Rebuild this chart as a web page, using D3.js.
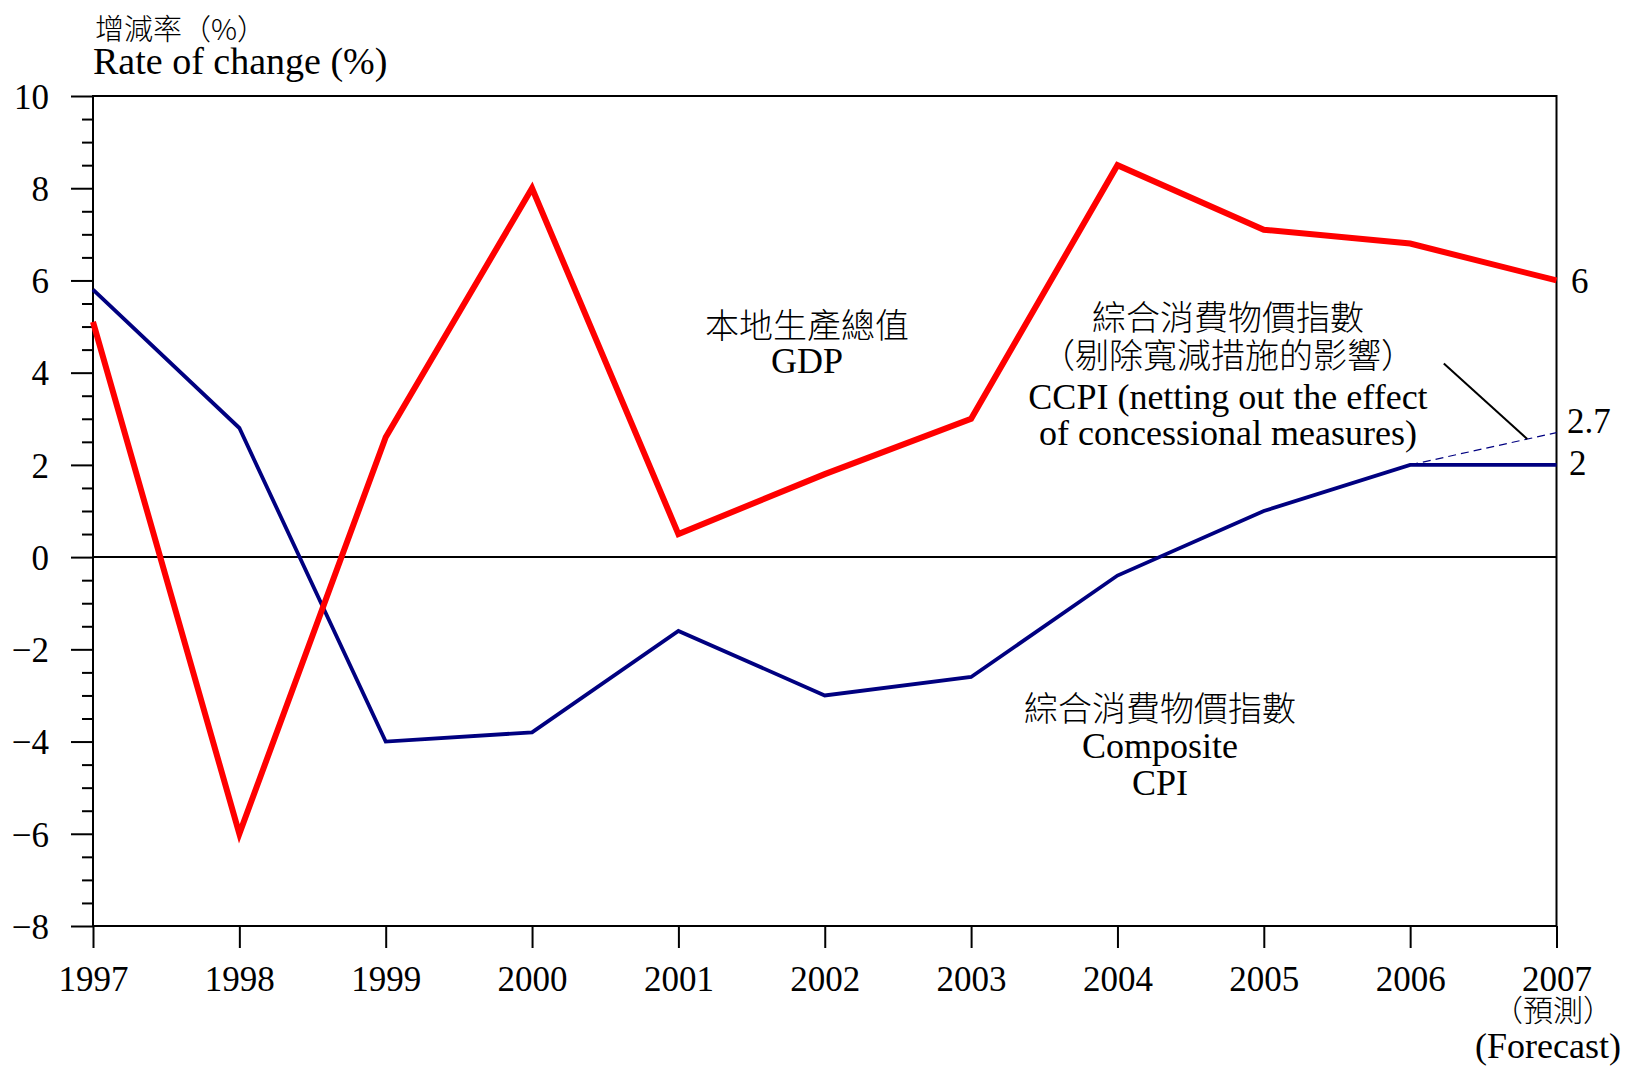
<!DOCTYPE html>
<html>
<head>
<meta charset="utf-8">
<script src="https://cdn.jsdelivr.net/npm/d3@7"></script>
<style>
  body { margin: 0; background: #fff; }
  svg text { font-family: "Liberation Serif", "Noto Sans CJK TC", serif; fill: #000; }
  .cjk { font-family: "Noto Sans CJK TC", sans-serif; font-weight: 300; }
</style>
</head>
<body>
<svg id="chart"></svg>
<script>
// data
var years = [1997, 1998, 1999, 2000, 2001, 2002, 2003, 2004, 2005, 2006, 2007];
var gdp   = [5.1, -6.0, 2.6, 8.0, 0.5, 1.8, 3.0, 8.5, 7.1, 6.8, 6.0];
var cpi   = [5.8, 2.8, -4.0, -3.8, -1.6, -3.0, -2.6, -0.4, 1.0, 2.0, 2.0];
var ccpiYears = [2006, 2007];
var ccpi      = [2.0, 2.7];
var yTicks = [-8, -6, -4, -2, 0, 2, 4, 6, 8, 10];

var width = 1628, height = 1071;
var plotLeft = 93, plotRight = 1556.5, plotTop = 96, plotBottom = 926;

var svg = d3.select('#chart')
    .attr('width', width)
    .attr('height', height);

var x = d3.scaleLinear().domain([1997, 2007]).range([plotLeft, plotRight]);
var y = d3.scaleLinear().domain([-8, 10]).range([plotBottom, plotTop]);

// minor ticks on y every 0.5
var minor = d3.range(-8, 10.01, 0.5).filter(function (d) { return yTicks.indexOf(d) < 0; });

svg.append('g')
    .attr('transform', 'translate(' + plotLeft + ',0)')
    .call(d3.axisLeft(y).tickValues(minor).tickSize(11).tickFormat(''))
    .call(function (g) { g.select('.domain').remove(); })
    .selectAll('line').attr('stroke', '#000').attr('stroke-width', 2);

var yAxis = svg.append('g')
    .attr('transform', 'translate(' + plotLeft + ',0)')
    .call(d3.axisLeft(y).tickValues(yTicks).tickSize(22).tickPadding(22).tickSizeOuter(0));
yAxis.select('.domain').remove();
yAxis.selectAll('line').attr('stroke', '#000').attr('stroke-width', 2);
yAxis.selectAll('text').attr('font-size', 35).attr('dy', '0.35em')
    .style('font-family', '"Liberation Serif", serif');

var xAxis = svg.append('g')
    .attr('transform', 'translate(0,' + plotBottom + ')')
    .call(d3.axisBottom(x).tickValues(years).tickFormat(d3.format('d')).tickSize(22).tickPadding(18).tickSizeOuter(0));
xAxis.select('.domain').remove();
xAxis.selectAll('line').attr('stroke', '#000').attr('stroke-width', 2);
xAxis.selectAll('text').attr('font-size', 35)
    .style('font-family', '"Liberation Serif", serif');

// frame
svg.append('rect')
    .attr('x', plotLeft).attr('y', plotTop)
    .attr('width', plotRight - plotLeft).attr('height', plotBottom - plotTop)
    .attr('fill', 'none').attr('stroke', '#000').attr('stroke-width', 2);

// zero line
svg.append('line')
    .attr('x1', plotLeft).attr('x2', plotRight)
    .attr('y1', y(0)).attr('y2', y(0))
    .attr('stroke', '#000').attr('stroke-width', 2);

// series lines
var line = d3.line()
    .x(function (d) { return x(d[0]); })
    .y(function (d) { return y(d[1]); });

svg.append('path')
    .datum(d3.zip(ccpiYears, ccpi))
    .attr('d', line)
    .attr('fill', 'none')
    .attr('stroke', '#000080')
    .attr('stroke-width', 1.2)
    .attr('stroke-dasharray', '8,5');

svg.append('path')
    .datum(d3.zip(years, cpi))
    .attr('d', line)
    .attr('fill', 'none')
    .attr('stroke', '#000080')
    .attr('stroke-width', 3.8)
    .attr('stroke-linejoin', 'miter');

svg.append('path')
    .datum(d3.zip(years, gdp))
    .attr('d', line)
    .attr('fill', 'none')
    .attr('stroke', '#ff0000')
    .attr('stroke-width', 6)
    .attr('stroke-linejoin', 'miter');

// leader line to ccpi dashed segment
var t = 0.8;
var lx = ccpiYears[0] + t * (ccpiYears[1] - ccpiYears[0]);
var ly = ccpi[0] + t * (ccpi[1] - ccpi[0]);
svg.append('line')
    .attr('x1', x(2006.23)).attr('y1', y(4.2))
    .attr('x2', x(lx)).attr('y2', y(ly))
    .attr('stroke', '#000').attr('stroke-width', 2);

// end value labels
svg.append('text').attr('x', 1571).attr('y', 293).attr('font-size', 35).text('6');
svg.append('text').attr('x', 1567).attr('y', 433).attr('font-size', 35).text('2.7');
svg.append('text').attr('x', 1569).attr('y', 475).attr('font-size', 35).text('2');

// axis title
svg.append('text').attr('class', 'cjk').attr('x', 95).attr('y', 40).attr('font-size', 29).text('增減率（%）');
svg.append('text').attr('x', 93).attr('y', 74).attr('font-size', 38).text('Rate of change (%)');

// forecast note under 2007
svg.append('text').attr('class', 'cjk').attr('x', 1553).attr('y', 1021)
    .attr('text-anchor', 'middle').attr('font-size', 30).text('（預測）');
svg.append('text').attr('x', 1548).attr('y', 1058)
    .attr('text-anchor', 'middle').attr('font-size', 36).text('(Forecast)');

// series labels
function label(cx, lines) {
    lines.forEach(function (l) {
        svg.append('text')
            .attr('class', l.cjk ? 'cjk' : null)
            .attr('x', cx).attr('y', l.y)
            .attr('text-anchor', 'middle')
            .attr('font-size', l.cjk ? 34 : 36)
            .text(l.t);
    });
}

label(807, [
    { t: '本地生產總值', y: 338, cjk: true },
    { t: 'GDP', y: 373 }
]);

label(1228, [
    { t: '綜合消費物價指數', y: 330, cjk: true },
    { t: '（剔除寬減措施的影響）', y: 368, cjk: true },
    { t: 'CCPI (netting out the effect', y: 409 },
    { t: 'of concessional measures)', y: 445 }
]);

label(1160, [
    { t: '綜合消費物價指數', y: 721, cjk: true },
    { t: 'Composite', y: 758 },
    { t: 'CPI', y: 795 }
]);
</script>
</body>
</html>
